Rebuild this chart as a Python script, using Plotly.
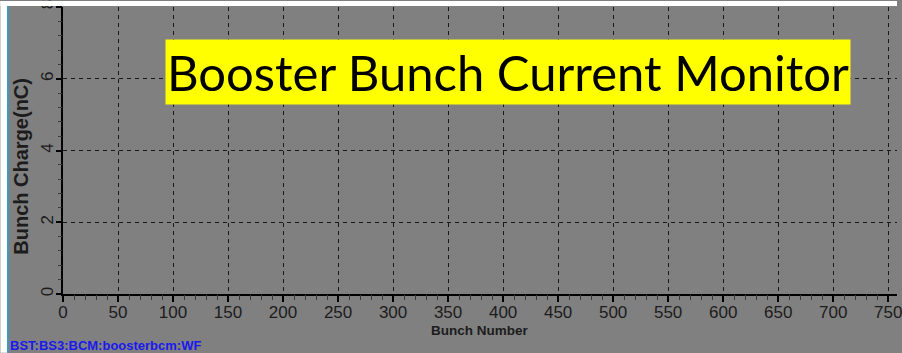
import plotly.graph_objects as go

# Waveform samples (no bunches filled in this snapshot)
bunch_number = []
bunch_charge = []

title_text = "Booster Bunch Current Monitor"
x_title = "Bunch Number"
y_title = "Bunch Charge(nC)"
pv_name = "BST:BS3:BCM:boosterbcm:WF"

x_range = [0, 758]
y_range = [0, 8]
x_major = 50
x_minor = 10
y_major = 2
y_minor = 0.4

W, H = 902, 353
ML, MR, MT, MB = 63, 0, 6, 59
PW, PH = W - ML - MR, H - MT - MB


def px(x):
    return (x - ML) / PW


def py(y):
    return (H - MB - y) / PH


GRAY = "#808080"
INK = "#1c1c1c"

fig = go.Figure()
fig.add_trace(go.Scatter(x=bunch_number, y=bunch_charge, mode="lines",
                         line=dict(color="#00ff00", width=1), showlegend=False))
# companion trace for the tick-mark axes
fig.add_trace(go.Scatter(x=bunch_number, y=bunch_charge, mode="lines",
                         xaxis="x2", yaxis="y2", showlegend=False, hoverinfo="skip"))

label_font = dict(family="Liberation Sans, Arial", size=17, color=INK)

# main axes: line, dashed grid and labels (short ticks keep labels close)
fig.update_layout(
    xaxis=dict(range=x_range, dtick=x_major, tick0=0,
               showline=True, linecolor="black", linewidth=1.5,
               ticks="outside", ticklen=2, tickcolor="black", tickwidth=1.5,
               showgrid=True, gridcolor="#1a1a1a", gridwidth=1, griddash="4px,4px",
               zeroline=False, ticklabeloverflow="allow", tickfont=label_font),
    yaxis=dict(range=y_range, dtick=y_major, tick0=0, tickangle=-90,
               showline=True, linecolor="black", linewidth=1.5,
               ticks="outside", ticklen=1, tickcolor="black", tickwidth=1.5,
               showgrid=True, gridcolor="#1a1a1a", gridwidth=1, griddash="4px,4px",
               zeroline=False, ticklabeloverflow="allow", tickfont=label_font),
    # tick-mark axes: full-length major and minor ticks, no labels
    xaxis2=dict(range=x_range, dtick=x_major, tick0=0, overlaying="x", anchor="y",
                side="bottom", showline=False, showgrid=False, zeroline=False,
                showticklabels=False,
                ticks="outside", ticklen=7, tickcolor="black", tickwidth=1.5,
                minor=dict(dtick=x_minor, ticklen=5, tickcolor="#3a3a3a",
                           tickwidth=1, showgrid=False, ticks="outside")),
    yaxis2=dict(range=y_range, dtick=y_major, tick0=0, overlaying="y", anchor="x",
                side="left", showline=False, showgrid=False, zeroline=False,
                showticklabels=False,
                ticks="outside", ticklen=6, tickcolor="black", tickwidth=1.5,
                minor=dict(dtick=y_minor, ticklen=4, tickcolor="#3a3a3a",
                           tickwidth=1, showgrid=False, ticks="outside")),
)

# white frame strips and the thin blue edge line
fig.add_shape(type="rect", xref="paper", yref="paper",
              x0=px(0), x1=px(7), y0=py(H), y1=py(0),
              fillcolor="white", line=dict(width=0), layer="above")
fig.add_shape(type="rect", xref="paper", yref="paper",
              x0=px(0), x1=px(W), y0=py(5), y1=py(0),
              fillcolor="white", line=dict(width=0), layer="above")
fig.add_shape(type="line", xref="paper", yref="paper",
              x0=px(7.5), x1=px(7.5), y0=py(H), y1=py(5),
              line=dict(color="#2a9fd6", width=1.5), layer="above")

annotations = [
    dict(text=title_text, x=px(511), y=py(71), xref="paper", yref="paper",
         xanchor="center", yanchor="middle", showarrow=False,
         bgcolor="#ffff00", width=684, height=64, borderpad=0,
         font=dict(family="Lato, Open Sans", size=49, color="black")),
    dict(text="<b>" + y_title + "</b>", x=px(21), y=py(166), xref="paper", yref="paper",
         xanchor="center", yanchor="middle", showarrow=False, textangle=-90,
         font=dict(family="Liberation Sans, Arial", size=20, color=INK)),
    dict(text="<b>" + x_title + "</b>", x=px(483), y=py(331), xref="paper", yref="paper",
         xanchor="center", yanchor="middle", showarrow=False,
         font=dict(family="Liberation Sans, Arial", size=13.5, color=INK)),
    dict(text="<b>" + pv_name + "</b>", x=px(8), y=py(346), xref="paper", yref="paper",
         xanchor="left", yanchor="middle", showarrow=False,
         font=dict(family="Liberation Sans, Arial", size=13, color="#1a1aee")),
]

fig.update_layout(
    width=W, height=H,
    margin=dict(l=ML, r=MR, t=MT, b=MB, pad=0),
    paper_bgcolor=GRAY, plot_bgcolor=GRAY,
    annotations=annotations,
    showlegend=False,
)

fig.write_html("out.html", config={"displayModeBar": False})
